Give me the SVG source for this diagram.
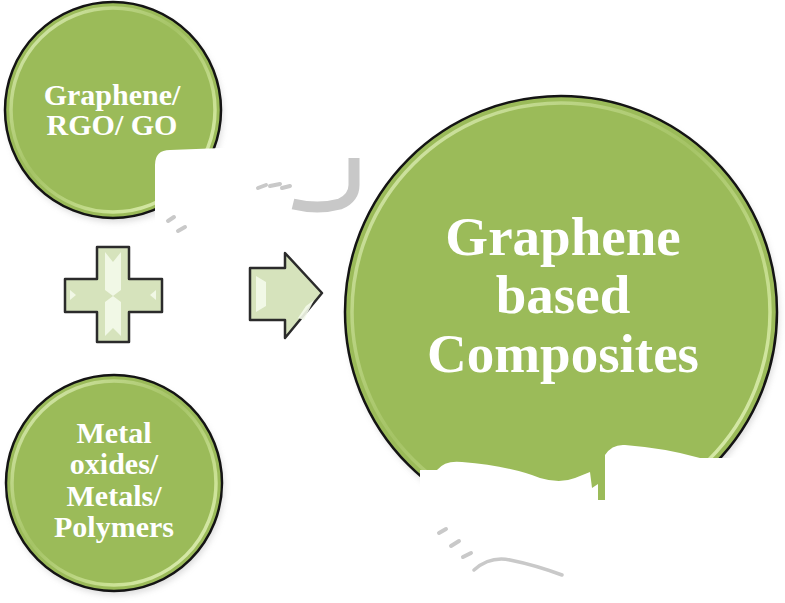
<svg xmlns="http://www.w3.org/2000/svg" width="785" height="603" viewBox="0 0 785 603">
<defs>
<style>
.ball{fill:#9BBB59;stroke:#141414;stroke-width:2.5}
.shine{fill:none;stroke:url(#ringGrad);stroke-width:3.5}
.lbl{font-family:"Liberation Serif","Times New Roman",serif;font-weight:bold;fill:#ffffff;text-anchor:middle}
.shape{fill:#D6E3BC;stroke:#2b2b2b;stroke-width:2.5;stroke-linejoin:round}
.hl{fill:#f4f9ea;opacity:0.9}
.blot{fill:#ffffff}
.gray{fill:none;stroke:#c9c9c9;stroke-linecap:round}
</style>
<linearGradient id="ringGrad" x1="0" y1="0" x2="1" y2="1">
<stop offset="0" stop-color="#e8f5c8" stop-opacity="0.95"/>
<stop offset="0.45" stop-color="#cfe69a" stop-opacity="0.2"/>
<stop offset="0.75" stop-color="#d8eca6" stop-opacity="0.8"/>
<stop offset="1" stop-color="#e8f5c8" stop-opacity="0.9"/>
</linearGradient>
<filter id="shadow" x="-20%" y="-20%" width="140%" height="140%">
<feGaussianBlur stdDeviation="3"/>
</filter>
</defs>
<rect width="785" height="603" fill="#ffffff"/>

<g id="node-graphene">
<circle cx="115" cy="114" r="108" fill="#999" opacity="0.35" filter="url(#shadow)"/>
<circle class="ball" cx="113" cy="110" r="108"/>
<circle class="shine" cx="113" cy="110" r="102"/>
<text class="lbl" font-size="30" x="112" y="105">Graphene/</text>
<text class="lbl" font-size="30" x="112" y="135">RGO/ GO</text>
</g>

<g id="node-plus">
<path class="shape" d="M97,247 H129 V279 H162 V312 H129 V342 H97 V312 H65 V279 H97 Z"/>
<path class="hl" d="M105,252 L113,262 L121,252 L121,290 L113,296 L105,290 Z" opacity="0.6"/>
<path class="hl" d="M105,302 L113,296 L121,302 L121,336 L113,328 L105,336 Z" opacity="0.6"/>
<path class="hl" d="M70,290 L76,295 L70,300 Z" opacity="0.7"/>
<path class="hl" d="M156,290 L150,295 L156,300 Z" opacity="0.7"/>
</g>

<g id="node-metal">
<circle cx="116" cy="487" r="108" fill="#999" opacity="0.35" filter="url(#shadow)"/>
<circle class="ball" cx="114" cy="483" r="108"/>
<circle class="shine" cx="114" cy="483" r="102"/>
<text class="lbl" font-size="30" x="114" y="443">Metal</text>
<text class="lbl" font-size="30" x="114" y="474">oxides/</text>
<text class="lbl" font-size="30" x="114" y="506">Metals/</text>
<text class="lbl" font-size="30" x="114" y="537">Polymers</text>
</g>

<g id="connectors">
<path class="shape" d="M250,268 H285 V253 L322,293 L285,338 V320 H250 Z"/>
<path class="hl" d="M256,276 L266,282 L266,306 L256,312 Z" opacity="0.6"/>
<path class="hl" d="M298,318 L306,306 L314,300 L304,320 Z" opacity="0.7"/>
</g>

<g id="node-composites">
<circle cx="563" cy="316" r="216" fill="#999" opacity="0.35" filter="url(#shadow)"/>
<circle class="ball" cx="561" cy="312" r="216"/>
<circle class="shine" cx="561" cy="312" r="209"/>
<text class="lbl" font-size="55" x="563" y="255">Graphene</text>
<text class="lbl" font-size="55" x="563" y="313">based</text>
<text class="lbl" font-size="55" x="563" y="372">Composites</text>
</g>

<g id="blots">
<path class="blot" d="M155,165 Q155,150 170,150 L222,148 L300,150 L300,240 L155,240 Z"/>
<path class="blot" d="M437,470 Q445,460 462,462 Q510,466 540,478 Q560,484 575,478 L590,472 L592,488 L598,484 L598,500 L605,500 L605,455 Q612,444 625,445 Q665,448 700,458 L785,458 L785,603 L420,603 L420,470 Z"/>
</g>

<g id="gray-marks">
<path d="M293,204 Q318,210 340,204 Q354,198 354,185 V158" fill="none" stroke="#c8c8c8" stroke-width="11"/>
<path class="gray" stroke-width="4" d="M258,188 L266,185 M270,186 L280,184 M282,188 L290,186"/>
<path class="gray" stroke-width="4" d="M168,221 L174,217 M178,231 L185,227"/>
<path class="gray" stroke-width="4" d="M439,533 L446,529 M451,546 L459,541 M463,557 L471,553"/>
<path class="gray" stroke-width="3.5" d="M474,570 Q490,556 510,560 Q535,565 562,575"/>
</g>
</svg>
